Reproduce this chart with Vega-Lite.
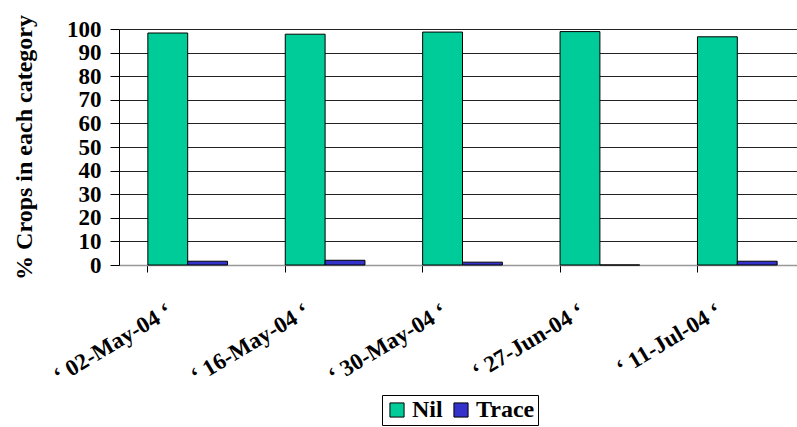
{
  "$schema": "https://vega.github.io/schema/vega-lite/v6.json",
  "autosize": {"type": "none"},
  "padding": {"left": 119, "top": 29, "right": 0, "bottom": 162},
  "width": 687,
  "height": 236,
  "background": "white",
  "config": {
    "view": {"stroke": null},
    "font": "Liberation Serif",
    "axis": {"labelFont": "Liberation Serif", "titleFont": "Liberation Serif", "labelFontWeight": "bold", "titleFontWeight": "bold", "labelColor": "black", "titleColor": "black"}
  },
  "data": {
    "values": [
      {"date": "‘ 02-May-04 ‘", "series": "Nil", "value": 98.3},
      {"date": "‘ 02-May-04 ‘", "series": "Trace", "value": 1.6},
      {"date": "‘ 16-May-04 ‘", "series": "Nil", "value": 97.8},
      {"date": "‘ 16-May-04 ‘", "series": "Trace", "value": 2.0},
      {"date": "‘ 30-May-04 ‘", "series": "Nil", "value": 98.7},
      {"date": "‘ 30-May-04 ‘", "series": "Trace", "value": 1.2},
      {"date": "‘ 27-Jun-04 ‘", "series": "Nil", "value": 98.9},
      {"date": "‘ 27-Jun-04 ‘", "series": "Trace", "value": 0},
      {"date": "‘ 11-Jul-04 ‘", "series": "Nil", "value": 96.7},
      {"date": "‘ 11-Jul-04 ‘", "series": "Trace", "value": 1.6}
    ]
  },
  "encoding": {
    "x": {
      "field": "date",
      "type": "nominal",
      "sort": null,
      "scale": {"paddingInner": 0.42, "paddingOuter": 0.21}
    }
  },
  "layer": [
    {
      "mark": {"type": "bar", "stroke": "black", "strokeWidth": 1},
      "encoding": {
        "x": {
          "field": "date",
          "type": "nominal",
          "sort": null,
          "axis": {
            "orient": "bottom",
            "title": null,
            "labels": false,
            "bandPosition": 0,
            "domainColor": "#999999",
            "domainWidth": 1.5,
            "tickColor": "black",
            "tickSize": 7,
            "grid": false
          }
        },
        "xOffset": {"field": "series", "type": "nominal", "scale": {"paddingInner": 0, "paddingOuter": 0}},
        "y": {
          "field": "value",
          "type": "quantitative",
          "scale": {"domain": [0, 100], "nice": false},
          "axis": {
            "title": "% Crops in each category",
            "titleFontSize": 24,
            "titlePadding": 30,
            "values": [0, 10, 20, 30, 40, 50, 60, 70, 80, 90, 100],
            "labelFontSize": 23,
            "labelPadding": 9,
            "tickSize": 9,
            "tickColor": "black",
            "domainColor": "black",
            "grid": true,
            "gridColor": "#222222",
            "gridWidth": 1
          }
        },
        "color": {
          "field": "series",
          "type": "nominal",
          "scale": {"domain": ["Nil", "Trace"], "range": ["#00CC99", "#3333CC"]},
          "legend": {
            "title": null,
            "orient": "none",
            "direction": "horizontal",
            "legendX": 263,
            "legendY": 366,
            "symbolType": "square",
            "symbolSize": 200,
            "symbolStrokeColor": "black",
            "symbolStrokeWidth": 1,
            "symbolOpacity": 1,
            "labelFont": "Liberation Serif",
            "labelFontWeight": "bold",
            "labelFontSize": 24,
            "labelColor": "black",
            "columnPadding": 6,
            "labelOffset": 3,
            "strokeColor": "black",
            "padding": 3,
            "fillColor": "white"
          }
        }
      }
    },
    {
      "mark": {"type": "rule", "opacity": 0},
      "encoding": {
        "x": {
          "field": "date",
          "type": "nominal",
          "sort": null,
          "axis": {
            "orient": "bottom",
            "title": null,
            "domain": false,
            "ticks": false,
            "grid": false,
            "labelAngle": -31,
            "labelAlign": "right",
            "labelBaseline": "middle",
            "labelFontSize": 23,
            "labelPadding": 44,
            "labelOffset": -18
          }
        }
      }
    }
  ],
  "resolve": {"axis": {"x": "independent"}}
}
